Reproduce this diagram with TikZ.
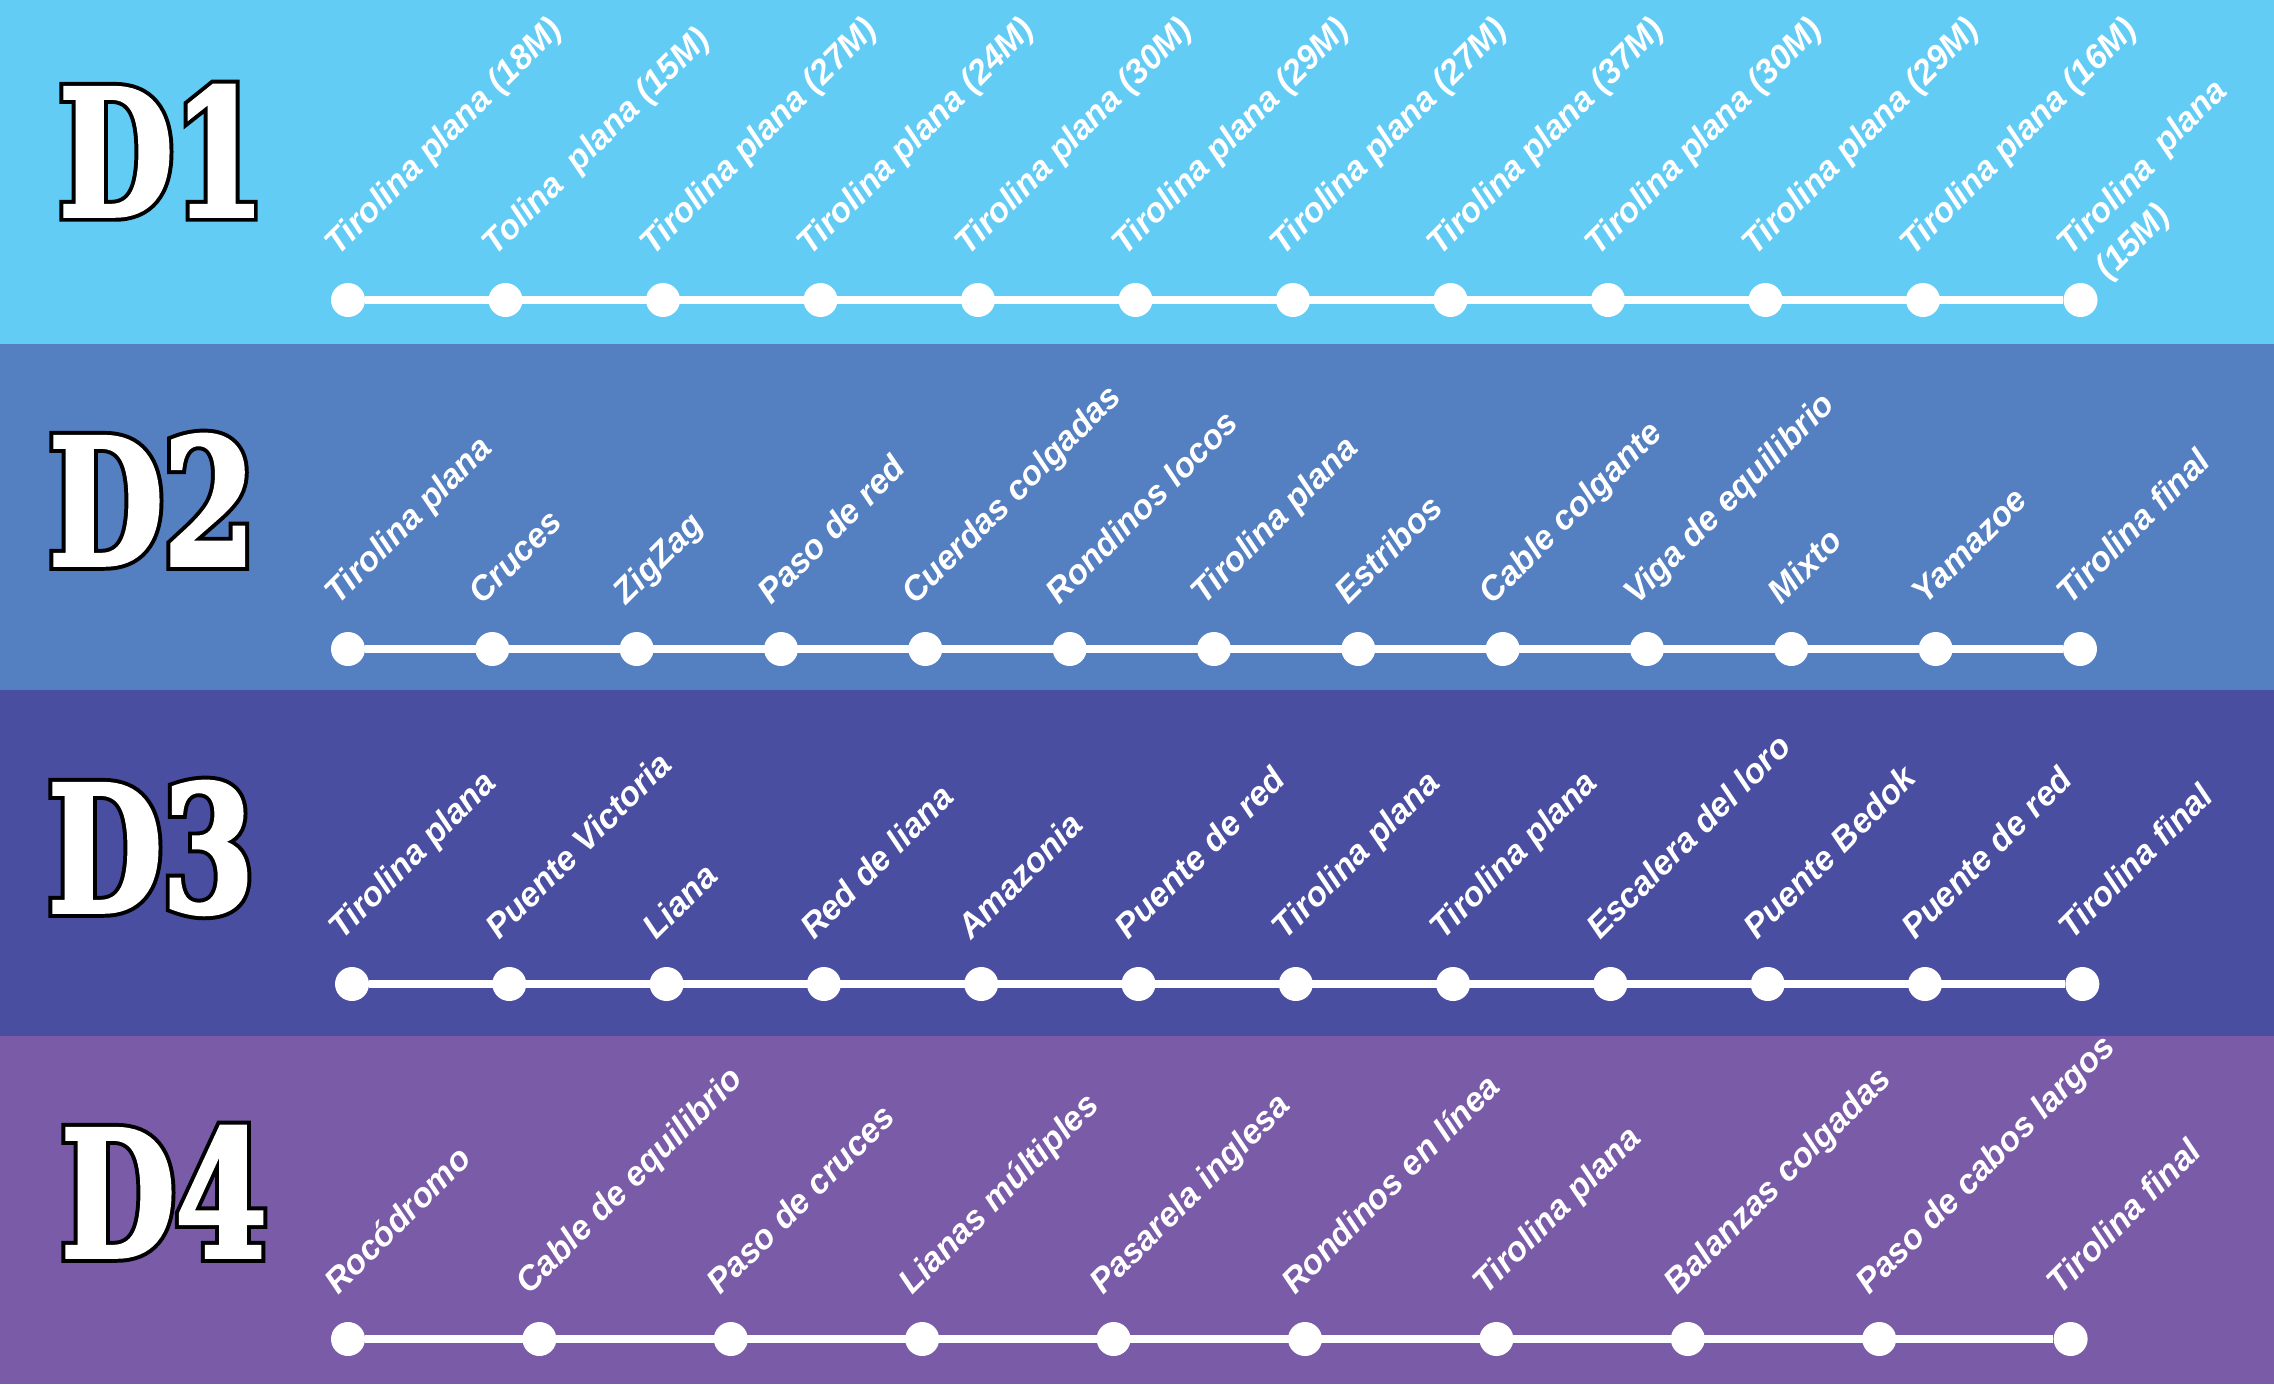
\documentclass[tikz,border=0pt]{standalone}
\usepackage{fontspec}
\setmainfont{Liberation Sans}
\newfontfamily\bigdfont{DejaVu Serif}[FakeStretch=0.75, FakeBold=2]
\newfontfamily\bigdrim{DejaVu Serif}[FakeStretch=0.75, FakeBold=6.5]
\usetikzlibrary{positioning}
\definecolor{dayone}{RGB}{99,204,245}
\definecolor{daytwo}{RGB}{84,127,193}
\definecolor{daythree}{RGB}{74,78,160}
\definecolor{dayfour}{RGB}{122,91,167}
\tikzset{
  dot/.style={circle, fill=white, inner sep=0pt, minimum size=34pt},
  track/.style={draw=white, line width=8pt},
  stage/.style={text=white, rotate=45, anchor=base west, inner sep=0pt,
    font=\fontsize{34}{44}\selectfont\bfseries\itshape},
  daytitle/.style={text=white, inner sep=0pt, anchor=base,
    font=\fontsize{176}{176}\selectfont\bfseries},
}
\newcommand{\daytag}[1]{\rlap{\color{black}\bigdrim\bfseries #1}{\bigdfont\bfseries #1}}

\begin{document}
\begin{tikzpicture}[x=1pt, y=-1pt]
  \useasboundingbox (0,0) rectangle (2274,1384);

  % day bands
  \fill[dayone] (0,0) rectangle (2274,344);
  \fill[daytwo] (0,344) rectangle (2274,690);
  \fill[daythree] (0,690) rectangle (2274,1036);
  \fill[dayfour] (0,1036) rectangle (2274,1384);

  % day titles
  \node[daytitle] (day1) at (162,216) {\daytag{D1}};
  \node[daytitle] (day2) at (152,565) {\daytag{D2}};
  \node[daytitle] (day3) at (151,912) {\daytag{D3}};
  \node[daytitle] (day4) at (164,1257) {\daytag{D4}};

  % D1
  \foreach \t [count=\i] in {Tirolina plana (18M), Tolina\ \ plana (15M),
      Tirolina plana (27M), Tirolina plana (24M), Tirolina plana (30M),
      Tirolina plana (29M), Tirolina plana (27M), Tirolina plana (37M),
      Tirolina plana (30M), Tirolina plana (29M), Tirolina plana (16M),
      \vtop{\hbox{Tirolina\hspace{0.5em}\raisebox{4pt}{plana}}\hbox{\hspace{0.3em}(15M)}}} {
    \node[dot] (p1-\i) at ({348+157.5*(\i-1)},300) {};
    \node[stage] (s1-\i) at ([shift={(-10,-43)}]p1-\i) {\t};
  }
  \draw[track] (p1-1) -- (p1-12);

  % D2
  \foreach \t [count=\i] in {Tirolina plana, Cruces, ZigZag, Paso de red,
      Cuerdas colgadas, Rondinos locos, Tirolina plana, Estribos,
      Cable colgante, Viga de equilibrio, Mixto, Yamazoe, Tirolina final} {
    \node[dot] (p2-\i) at ({348+144.33*(\i-1)},649) {};
    \node[stage] (s2-\i) at ([shift={(-10,-43)}]p2-\i) {\t};
  }
  \draw[track] (p2-1) -- (p2-13);

  % D3
  \foreach \t [count=\i] in {Tirolina plana, Puente Victoria, Liana,
      Red de liana, Amazonia, Puente de red, Tirolina plana, Tirolina plana,
      Escalera del loro, Puente Bedok, Puente de red, Tirolina final} {
    \node[dot] (p3-\i) at ({352+157.3*(\i-1)},984) {};
    \node[stage] (s3-\i) at ([shift={(-10,-43)}]p3-\i) {\t};
  }
  \draw[track] (p3-1) -- (p3-12);

  % D4
  \foreach \t [count=\i] in {Rocódromo, Cable de equilibrio, Paso de cruces,
      Lianas múltiples, Pasarela inglesa, Rondinos en línea, Tirolina plana,
      Balanzas colgadas, Paso de cabos largos, Tirolina final} {
    \node[dot] (p4-\i) at ({348+191.4*(\i-1)},1339) {};
    \node[stage] (s4-\i) at ([shift={(-10,-43)}]p4-\i) {\t};
  }
  \draw[track] (p4-1) -- (p4-10);
\end{tikzpicture}
\end{document}
